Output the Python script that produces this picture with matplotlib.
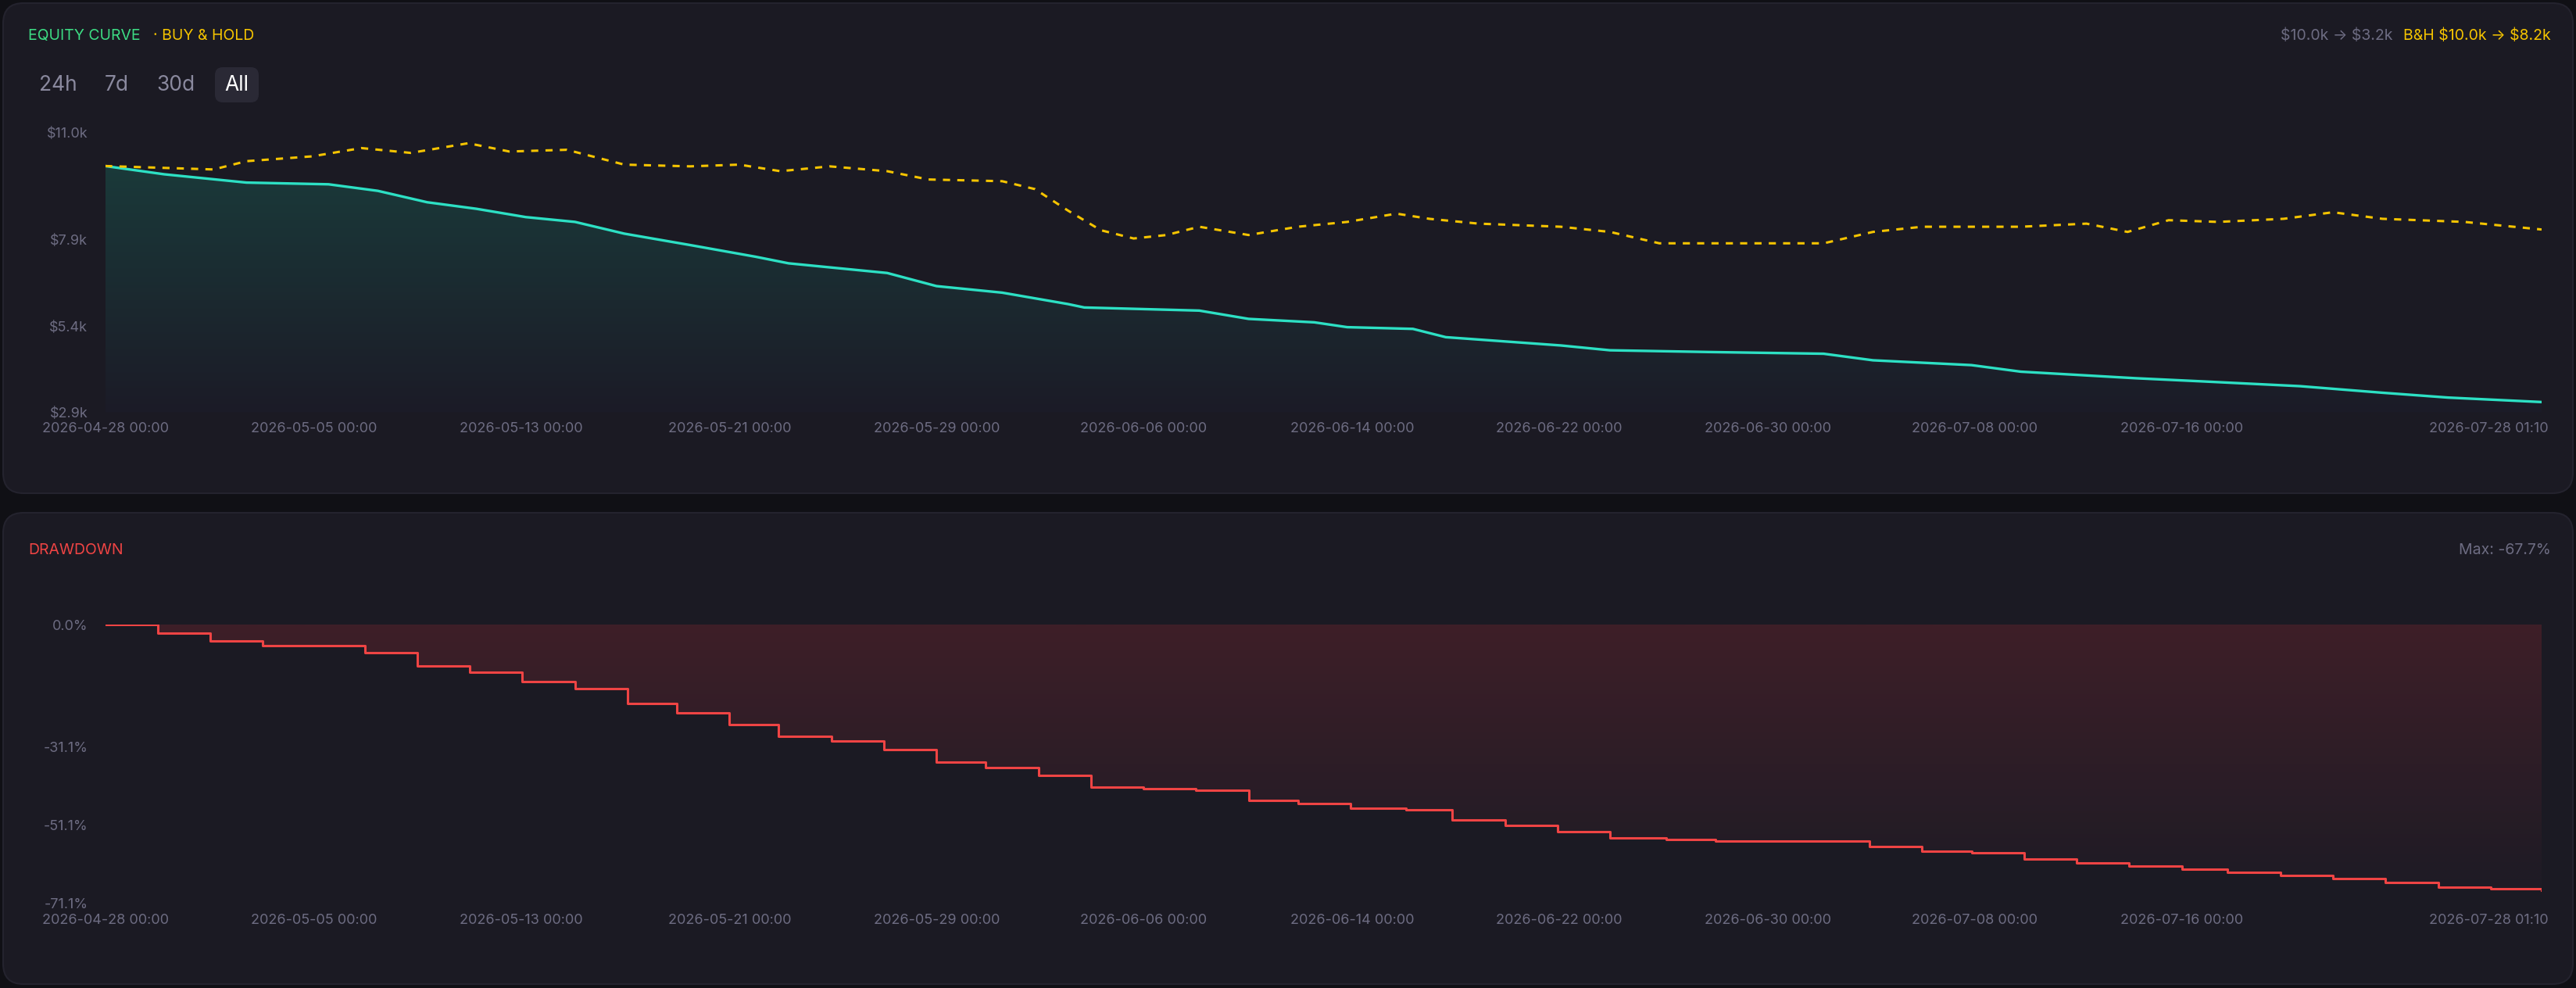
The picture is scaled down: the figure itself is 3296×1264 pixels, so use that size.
import numpy as np
import matplotlib.pyplot as plt
from matplotlib.patches import FancyBboxPatch
from matplotlib.colors import LinearSegmentedColormap

plt.rcParams['font.family'] = ['Inter', 'DejaVu Sans']

# sample positions (0 = start, 1483 = end of period) and values
eq_x = [0, 36, 86, 136, 166, 196, 226, 256, 286, 316, 356, 396, 416, 476, 506, 546, 586, 596, 666, 696,
        736, 756, 796, 816, 886, 916, 976, 1046, 1076, 1136, 1166, 1236, 1276, 1336, 1386, 1426, 1483]
eq_y = [10.04, 9.8, 9.56, 9.51, 9.32, 8.99, 8.8, 8.56, 8.42, 8.08, 7.75, 7.41, 7.22, 6.94, 6.56, 6.37, 6.04, 5.94,
        5.85, 5.61, 5.51, 5.37, 5.32, 5.08, 4.84, 4.70, 4.65, 4.60, 4.41, 4.27, 4.08, 3.89, 3.80, 3.66, 3.47, 3.33, 3.2]
bh_x = [0, 66, 86, 126, 156, 186, 221, 246, 281, 316, 356, 386, 411, 441, 476, 501, 546, 566, 586, 606, 626,
        646, 666, 696, 726, 756, 786, 806, 836, 886, 916, 946, 986, 1046, 1076, 1106, 1166, 1206, 1231, 1256,
        1286, 1326, 1356, 1386, 1436, 1483]
bh_y = [10.04, 9.94, 10.18, 10.32, 10.56, 10.42, 10.7, 10.46, 10.51, 10.08, 10.03, 10.08, 9.89, 10.03, 9.89,
        9.65, 9.6, 9.37, 8.75, 8.18, 7.94, 8.04, 8.28, 8.04, 8.28, 8.42, 8.66, 8.51, 8.37, 8.28, 8.13, 7.8,
        7.8, 7.8, 8.13, 8.28, 8.28, 8.37, 8.13, 8.47, 8.42, 8.51, 8.7, 8.51, 8.42, 8.2]
dd_x = [0, 32, 64, 96, 158, 190, 222, 254, 286, 318, 348, 380, 410, 442, 474, 506, 536, 568, 600, 632, 664,
        696, 726, 758, 792, 820, 852, 884, 916, 950, 980, 1016, 1074, 1106, 1136, 1168, 1200, 1232, 1264, 1292,
        1324, 1356, 1388, 1420, 1452, 1483]
dd_y = [0.0, -2.1, -4.2, -5.4, -7.1, -10.5, -12.1, -14.6, -16.3, -20.1, -22.6, -25.5, -28.4, -29.7, -31.8,
        -35.1, -36.4, -38.5, -41.4, -41.8, -42.3, -44.8, -45.6, -46.9, -47.3, -49.8, -51.1, -52.7, -54.4, -54.8,
        -55.2, -55.2, -56.5, -57.7, -58.2, -59.8, -60.7, -61.5, -62.3, -63.2, -64.0, -64.8, -65.7, -66.9, -67.3, -67.7]
tick_pos = [0, 127, 253, 380, 506, 632, 759, 885, 1012, 1138, 1264, 1451]
tick_lbl = ['2026-04-28 00:00', '2026-05-05 00:00', '2026-05-13 00:00', '2026-05-21 00:00',
            '2026-05-29 00:00', '2026-06-06 00:00', '2026-06-14 00:00', '2026-06-22 00:00',
            '2026-06-30 00:00', '2026-07-08 00:00', '2026-07-16 00:00', '2026-07-28 01:10']

W, H = 3296, 1264
BG, PANEL = '#101015', '#1b1a23'
MUTED = '#6d6c82'
fig = plt.figure(figsize=(W / 100, H / 100), dpi=100, facecolor=BG)

def px(x0, y0, x1, y1):
    return [x0 / W, 1 - y1 / H, (x1 - x0) / W, (y1 - y0) / H]

bgax = fig.add_axes([0, 0, 1, 1])
bgax.set_xlim(0, W); bgax.set_ylim(H, 0); bgax.axis('off')
for y0, y1 in [(4, 631), (656, 1259)]:
    bgax.add_patch(FancyBboxPatch((4, y0), W - 8, y1 - y0, boxstyle='round,pad=0,rounding_size=26',
                                  fc=PANEL, ec='#24232e', lw=1.5))
bgax.add_patch(FancyBboxPatch((275, 86), 56, 45, boxstyle='round,pad=0,rounding_size=10', fc='#2a2935', ec='none'))

bgax.text(36, 46, 'EQUITY CURVE', color='#3ddc84', fontsize=14, va='center')
bgax.text(196, 46, '· BUY & HOLD', color='#f5c400', fontsize=14, va='center')
bgax.text(3264, 46, r'B&H \$10.0k → \$8.2k', color='#f5c400', fontsize=14, va='center', ha='right')
bgax.text(3062, 46, r'\$10.0k → \$3.2k', color=MUTED, fontsize=14, va='center', ha='right')
for lbl, cx, col in [('24h', 74, '#8a899e'), ('7d', 149, '#8a899e'), ('30d', 225, '#8a899e'), ('All', 303, '#ffffff')]:
    bgax.text(cx, 109, lbl, color=col, fontsize=19, va='center', ha='center')
bgax.text(36, 704, 'DRAWDOWN', color='#ef4444', fontsize=14, va='center')
bgax.text(3264, 704, 'Max: -67.7%', color=MUTED, fontsize=14, va='center', ha='right')

def style(ax, yticks, ylbls, ylim):
    ax.set_facecolor('none')
    ax.set_xlim(0, 1483)
    ax.set_ylim(*ylim)
    for s in ax.spines.values():
        s.set_visible(False)
    ax.set_yticks(yticks, ylbls)
    ax.set_xticks(tick_pos, tick_lbl)
    ax.tick_params(colors=MUTED, labelsize=13, length=0, pad=9)
    ax.tick_params(axis='y', pad=16)

def gradient_fill(ax, x, y, base, c_top, c_bot, top, bottom, step=False):
    cmap = LinearSegmentedColormap.from_list('g', [c_bot, c_top])
    im = ax.imshow(np.linspace(0, 1, 256).reshape(-1, 1), cmap=cmap, aspect='auto',
                   extent=[0, 1483, bottom, top], origin='lower', zorder=1)
    poly = ax.fill_between(x, y, base, step='post' if step else None, color='none')
    im.set_clip_path(poly.get_paths()[0], transform=ax.transData)

# equity
ax1 = fig.add_axes(px(134.5, 170, 3252, 527.6))
style(ax1, [11.0, 7.9, 5.4, 2.9], [r'\$11.0k', r'\$7.9k', r'\$5.4k', r'\$2.9k'], (2.9, 11.0))
gradient_fill(ax1, eq_x, eq_y, 2.9, '#1a3a3a', '#1c1b27', 10.1, 2.9)
ax1.plot(eq_x, eq_y, color='#2de0c4', lw=2.4, zorder=3)
ax1.plot(bh_x, bh_y, color='#f5c400', lw=2.2, ls=(0, (3, 3)), zorder=3)

# drawdown
ax2 = fig.add_axes(px(134.5, 799, 3252, 1156))
style(ax2, [0, -31.1, -51.1, -71.1], ['0.0%', '-31.1%', '-51.1%', '-71.1%'], (-71.1, 0))
gradient_fill(ax2, dd_x, dd_y, 0, '#3e1f28', '#1c1b25', 0, -71.1, step=True)
ax2.step(dd_x, dd_y, where='post', color='#ef4444', lw=2.2, zorder=3)

fig.savefig('out.png', dpi=100, facecolor=BG)
